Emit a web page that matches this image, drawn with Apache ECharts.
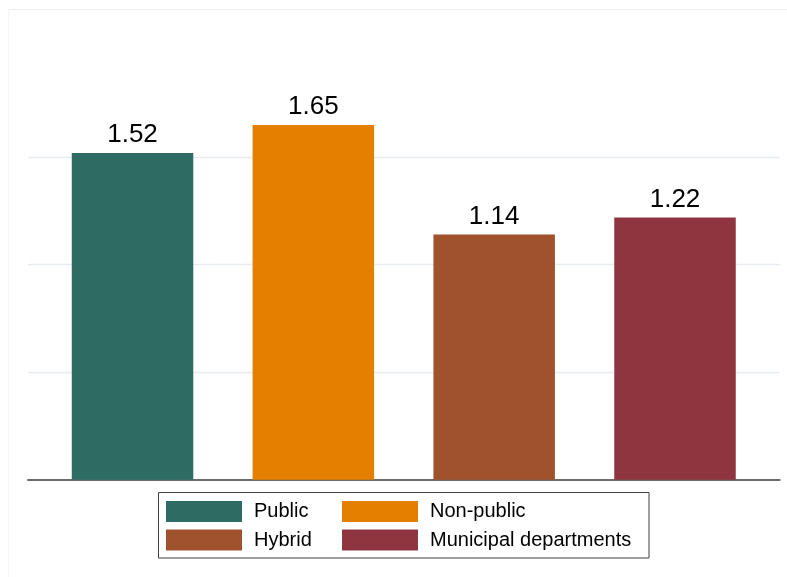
<!DOCTYPE html>
<html>
<head>
<meta charset="utf-8">
<script src="https://cdn.jsdelivr.net/npm/echarts@6/dist/echarts.min.js"></script>
<style>
  html, body { margin: 0; padding: 0; background: #fff; }
  #chart { width: 787px; height: 577px; }
</style>
</head>
<body>
<div id="chart"></div>
<script>
// Groups and their mean values
const categories = ['Public', 'Non-public', 'Hybrid', 'Municipal departments'];
const values = [1.52, 1.65, 1.14, 1.22];
const colors = ['#2e6b63', '#e57f00', '#a0522d', '#8e3540'];
const yTicks = [0, 0.5, 1, 1.5, 2];

const FONT = '"Liberation Sans", Arial, Helvetica, sans-serif';

const chart = echarts.init(document.getElementById('chart'), null, { renderer: 'canvas' });

// one series per group so each gets its own legend entry; bars overlap at their own slot
const series = categories.map((name, i) => ({
  name: name,
  type: 'bar',
  data: [[i + 1, values[i]]],
  barWidth: 121.5,
  barGap: '-100%',
  itemStyle: { color: colors[i] },
  label: {
    show: true,
    position: 'top',
    distance: 5,
    fontSize: 26,
    fontFamily: FONT,
    color: '#000',
    formatter: p => p.value[1].toFixed(2)
  },
  emphasis: { disabled: true }
}));

const legendText = { fontSize: 20, fontFamily: FONT, color: '#000', padding: [0, 0, 0, 7] };

chart.setOption({
  animation: false,
  backgroundColor: '#fff',
  grid: { left: 28, right: 7.3, top: 49.7, bottom: 97.3, containLabel: false },
  xAxis: {
    type: 'value',
    min: 0.422,
    max: 4.579,
    axisLine: { show: true, onZero: false, lineStyle: { color: '#6b6b6b', width: 1.8 } },
    axisTick: { show: false },
    axisLabel: { show: false },
    splitLine: { show: false }
  },
  yAxis: {
    type: 'value',
    min: yTicks[0],
    max: yTicks[yTicks.length - 1],
    interval: 0.5,
    axisLine: { show: false },
    axisTick: { show: false },
    axisLabel: { show: false },
    splitLine: {
      show: true,
      showMinLine: false,
      showMaxLine: false,
      lineStyle: { color: '#e6ebf0', width: 1.3 }
    }
  },
  legend: [
    {
      data: [categories[0], categories[2]],
      orient: 'vertical',
      left: 166,
      top: 501,
      itemWidth: 76,
      itemHeight: 21,
      itemGap: 7.5,
      padding: 0,
      icon: 'rect',
      selectedMode: false,
      textStyle: legendText
    },
    {
      data: [categories[1], categories[3]],
      orient: 'vertical',
      left: 342,
      top: 501,
      itemWidth: 76,
      itemHeight: 21,
      itemGap: 7.5,
      padding: 0,
      icon: 'rect',
      selectedMode: false,
      textStyle: legendText
    }
  ],
  graphic: [
    // faint outer plot-region frame
    { type: 'line', silent: true, shape: { x1: 8.5, y1: 9.5, x2: 787, y2: 9.5 },
      style: { stroke: '#eef1f4', lineWidth: 1 } },
    { type: 'line', silent: true, shape: { x1: 8.5, y1: 9.5, x2: 8.5, y2: 577 },
      style: { stroke: '#f5f6f8', lineWidth: 1 } },
    // legend box
    { type: 'rect', silent: true, shape: { x: 158.5, y: 492.5, width: 490.5, height: 65.5 },
      style: { fill: null, stroke: '#404040', lineWidth: 1 } }
  ],
  series: series
});
</script>
</body>
</html>
